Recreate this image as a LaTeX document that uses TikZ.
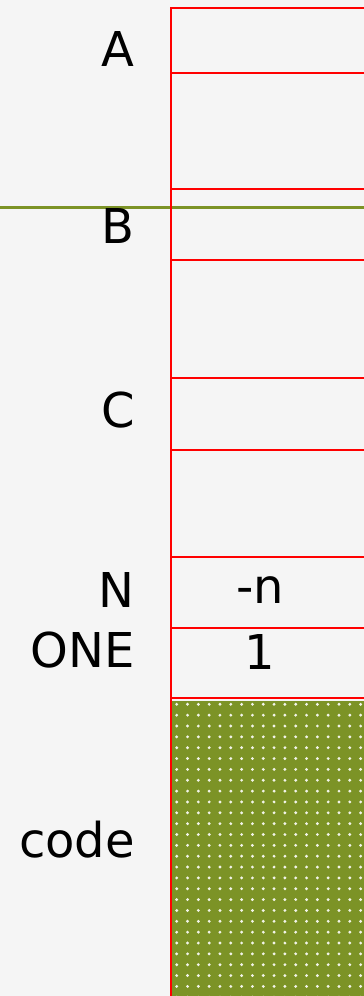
\documentclass[tikz,border=0pt]{standalone}
\usepackage{fontspec}
\setmainfont{DejaVu Sans}
\definecolor{cellred}{RGB}{255,0,0}
\definecolor{olivefill}{RGB}{124,147,38}
\definecolor{bggray}{RGB}{245,245,245}
\begin{document}
\begin{tikzpicture}[x=1pt,y=-1pt,
  lbl/.style={anchor=base east, inner sep=0pt, font=\fontsize{48}{52}\selectfont},
  val/.style={anchor=base, inner sep=0pt, font=\fontsize{48}{52}\selectfont},
  cellline/.style={draw=cellred, line width=2.4pt},
  sepline/.style={draw=olivefill, line width=3pt},
  dotmark/.style={fill=white!90!olivefill, draw=none}]
\fill[bggray] (0,0) rectangle (364,996);
\useasboundingbox (0,0) rectangle (364,996);
\clip (0,0) rectangle (364,996);
% code area
\fill[olivefill] (172,701) rectangle (366,998);
\foreach \i in {0,...,17} {
  \foreach \j in {0,...,27} {
    \fill[dotmark] ({176.7+10.82*\i},{704.3+10.85*\j}) circle (1.6);
  }
}
% separator line
\draw[sepline] (0,207) -- (366,207);
% cells
\foreach \y in {8,73,189,260,378,450,557,628,698} {
  \draw[cellline] (171,\y) -- (366,\y);
}
\draw[cellline] (171,7) -- (171,998);
% labels
\node[lbl] (la) at (135,66) {A};
\node[lbl] (lb) at (135,243) {B};
\node[lbl] (lc) at (135,427) {C};
\node[lbl] (ln) at (135,607) {N};
\node[lbl] (lone) at (135,667) {ONE};
\node[lbl] (lcode) at (135,857) {code};
\node[val] (vn) at (260,603) {-n};
\node[val] (vone) at (260,669) {1};
\end{tikzpicture}
\end{document}
